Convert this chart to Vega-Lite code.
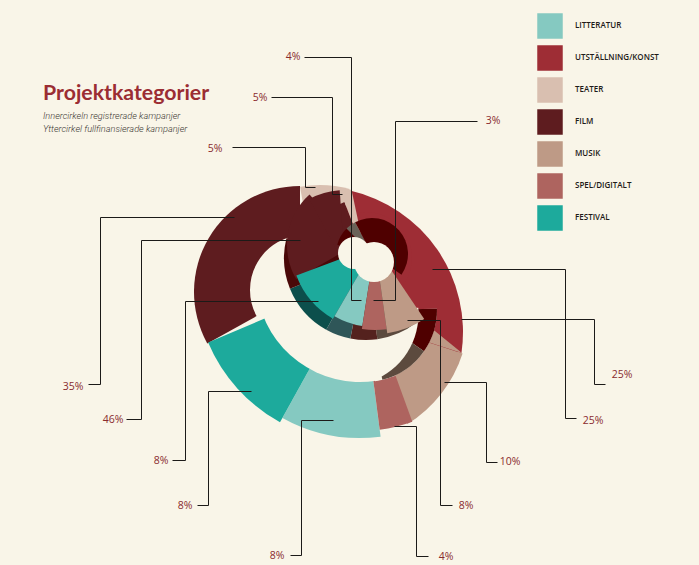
{
"$schema":"https://vega.github.io/schema/vega-lite/v6.json",
"width":699,"height":565,"padding":0,
"autosize":{"type":"fit","contains":"padding"},
"background":"#f9f5e8",
"view":{"stroke":null},
"layer":[
{"data":{"values":[{"category":"TEATER","start":350,"end":375}]},
"mark":{"type":"arc","radius":115},
"encoding":{
"x":{"datum":320,"type":"quantitative","scale":{"domain":[0,699],"nice":false,"zero":false},"axis":null},
"y":{"datum":300,"type":"quantitative","scale":{"domain":[565,0],"nice":false,"zero":false},"axis":null},
"theta":{"field":"start","type":"quantitative","scale":{"domain":[0,360],"range":[0,6.2832]}},
"theta2":{"field":"end"},
"color":{"field":"category","type":"nominal",
"scale":{"domain":["LITTERATUR","UTSTÄLLNING/KONST","TEATER","FILM","MUSIK","SPEL/DIGITALT","FESTIVAL","Film skugga","Festival skugga","Litteratur skugga","Spel skugga","Musik skugga","Vägg mörk","Vägg grå"],
"range":["#85c9c1","#9e2d35","#d9bfb0","#5e1c1f","#be9a86","#ae645f","#1daa9c","#4a0808","#0c4f4c","#2f5658","#54221e","#5c4a3e","#4f0000","#6a6258"]},
"legend":{"values":["LITTERATUR","UTSTÄLLNING/KONST","TEATER","FILM","MUSIK","SPEL/DIGITALT","FESTIVAL"],"title":null,"orient":"none","legendX":537,"legendY":13,"symbolType":"square","symbolSize":650,"symbolStrokeWidth":0,"symbolOpacity":1,"rowPadding":6,"labelFont":"Open Sans","labelFontSize":8,"labelFontWeight":600,"labelColor":"#1e1a18","labelOffset":12,"padding":0}}
}},
{"data":{"values":[{"category":"FILM","start":241,"end":360}]},"mark":{"type":"arc","radius":106},
"encoding":{"x":{"datum":300,"type":"quantitative"},"y":{"datum":292,"type":"quantitative"},"theta":{"field":"start","type":"quantitative"},"theta2":{"field":"end"},"color":{"field":"category","type":"nominal"}}},
{"data":{"values":[{"category":"UTSTÄLLNING/KONST","start":12.7,"end":98.3}]},"mark":{"type":"arc","radius":145},
"encoding":{"x":{"datum":318,"type":"quantitative"},"y":{"datum":332,"type":"quantitative"},"theta":{"field":"start","type":"quantitative"},"theta2":{"field":"end"},"color":{"field":"category","type":"nominal"}}},
{"data":{"values":[{"category":"MUSIK","start":108,"end":148}]},"mark":{"type":"arc","radius":131},
"encoding":{"x":{"datum":338,"type":"quantitative"},"y":{"datum":313,"type":"quantitative"},"theta":{"field":"start","type":"quantitative"},"theta2":{"field":"end"},"color":{"field":"category","type":"nominal"}}},
{"data":{"values":[{"category":"MUSIK","start":288,"end":309}]},"mark":{"type":"arc","radius":40},
"encoding":{"x":{"datum":462,"type":"quantitative"},"y":{"datum":353,"type":"quantitative"},"theta":{"field":"start","type":"quantitative"},"theta2":{"field":"end"},"color":{"field":"category","type":"nominal"}}},
{"data":{"values":[{"category":"LITTERATUR","start":172.6,"end":209}]},"mark":{"type":"arc","radius":160},
"encoding":{"x":{"datum":360,"type":"quantitative"},"y":{"datum":278,"type":"quantitative"},"theta":{"field":"start","type":"quantitative"},"theta2":{"field":"end"},"color":{"field":"category","type":"nominal"}}},
{"data":{"values":[{"category":"FESTIVAL","start":209,"end":247}]},"mark":{"type":"arc","radius":165},
"encoding":{"x":{"datum":360,"type":"quantitative"},"y":{"datum":278,"type":"quantitative"},"theta":{"field":"start","type":"quantitative"},"theta2":{"field":"end"},"color":{"field":"category","type":"nominal"}}},
{"data":{"values":[{"category":"SPEL/DIGITALT","start":160,"end":172.6}]},"mark":{"type":"arc","radius":153},
"encoding":{"x":{"datum":360,"type":"quantitative"},"y":{"datum":278,"type":"quantitative"},"theta":{"field":"start","type":"quantitative"},"theta2":{"field":"end"},"color":{"field":"category","type":"nominal"}}},
{"data":{"values":[{"start":240,"end":360}]},"mark":{"type":"arc","radius":55,"fill":"#f9f5e8"},
"encoding":{"x":{"datum":305,"type":"quantitative"},"y":{"datum":290,"type":"quantitative"},"theta":{"field":"start","type":"quantitative"},"theta2":{"field":"end"}}},
{"data":{"values":[{"start":160,"end":250}]},"mark":{"type":"arc","radius":104,"fill":"#f9f5e8"},
"encoding":{"x":{"datum":360,"type":"quantitative"},"y":{"datum":278,"type":"quantitative"},"theta":{"field":"start","type":"quantitative"},"theta2":{"field":"end"}}},
{"data":{"values":[{"start":89,"end":172}]},"mark":{"type":"arc","radius":72,"fill":"#f9f5e8"},
"encoding":{"x":{"datum":365,"type":"quantitative"},"y":{"datum":310,"type":"quantitative"},"theta":{"field":"start","type":"quantitative"},"theta2":{"field":"end"}}},
{"data":{"values":[{"category":"Vägg mörk","start":89,"end":125},{"category":"Musik skugga","start":125,"end":166}]},"mark":{"type":"arc","radius":72},
"encoding":{"x":{"datum":365,"type":"quantitative"},"y":{"datum":310,"type":"quantitative"},"theta":{"field":"start","type":"quantitative"},"theta2":{"field":"end"},"color":{"field":"category","type":"nominal"}}},
{"data":{"values":[{"start":85,"end":160}]},"mark":{"type":"arc","radius":71.5,"fill":"#f9f5e8"},
"encoding":{"x":{"datum":347,"type":"quantitative"},"y":{"datum":314,"type":"quantitative"},"theta":{"field":"start","type":"quantitative"},"theta2":{"field":"end"}}},
{"data":{"values":[
{"category":"Musik skugga","start":142,"end":172},
{"category":"Spel skugga","start":172,"end":191},
{"category":"Litteratur skugga","start":191,"end":209},
{"category":"Festival skugga","start":209,"end":248},
{"category":"Film skugga","start":248,"end":284}]},
"mark":{"type":"arc","radius":82},
"encoding":{"x":{"datum":366,"type":"quantitative"},"y":{"datum":258,"type":"quantitative"},"theta":{"field":"start","type":"quantitative"},"theta2":{"field":"end"},"color":{"field":"category","type":"nominal"}}},
{"data":{"values":[{"category":"UTSTÄLLNING/KONST","start":348,"end":492}]},"mark":{"type":"arc","radius":46},
"encoding":{"x":{"datum":366,"type":"quantitative"},"y":{"datum":258,"type":"quantitative"},"theta":{"field":"start","type":"quantitative"},"theta2":{"field":"end"},"color":{"field":"category","type":"nominal"}}},
{"data":{"values":[{"category":"FILM","start":280,"end":339}]},"mark":{"type":"arc","radius":60},
"encoding":{"x":{"datum":366,"type":"quantitative"},"y":{"datum":258,"type":"quantitative"},"theta":{"field":"start","type":"quantitative"},"theta2":{"field":"end"},"color":{"field":"category","type":"nominal"}}},
{"data":{"values":[{"category":"FILM","start":240,"end":318}]},"mark":{"type":"arc","radius":68},
"encoding":{"x":{"datum":355,"type":"quantitative"},"y":{"datum":245,"type":"quantitative"},"theta":{"field":"start","type":"quantitative"},"theta2":{"field":"end"},"color":{"field":"category","type":"nominal"}}},
{"data":{"values":[{"category":"FILM","start":332,"end":356}]},"mark":{"type":"arc","radius":76},
"encoding":{"x":{"datum":345,"type":"quantitative"},"y":{"datum":266,"type":"quantitative"},"theta":{"field":"start","type":"quantitative"},"theta2":{"field":"end"},"color":{"field":"category","type":"nominal"}}},
{"data":{"values":[{"category":"TEATER","start":339,"end":348}]},"mark":{"type":"arc","radius":70},
"encoding":{"x":{"datum":366,"type":"quantitative"},"y":{"datum":258,"type":"quantitative"},"theta":{"field":"start","type":"quantitative"},"theta2":{"field":"end"},"color":{"field":"category","type":"nominal"}}},
{"data":{"values":[{"category":"FESTIVAL","start":210,"end":249.4}]},"mark":{"type":"arc","radius":84},
"encoding":{"x":{"datum":375,"type":"quantitative"},"y":{"datum":246,"type":"quantitative"},"theta":{"field":"start","type":"quantitative"},"theta2":{"field":"end"},"color":{"field":"category","type":"nominal"}}},
{"data":{"values":[{"category":"LITTERATUR","start":189,"end":210}]},"mark":{"type":"arc","radius":81},
"encoding":{"x":{"datum":375,"type":"quantitative"},"y":{"datum":246,"type":"quantitative"},"theta":{"field":"start","type":"quantitative"},"theta2":{"field":"end"},"color":{"field":"category","type":"nominal"}}},
{"data":{"values":[{"category":"SPEL/DIGITALT","start":172,"end":189}]},"mark":{"type":"arc","radius":84},
"encoding":{"x":{"datum":375,"type":"quantitative"},"y":{"datum":246,"type":"quantitative"},"theta":{"field":"start","type":"quantitative"},"theta2":{"field":"end"},"color":{"field":"category","type":"nominal"}}},
{"data":{"values":[{"category":"MUSIK","start":146,"end":172}]},"mark":{"type":"arc","radius":88},
"encoding":{"x":{"datum":375,"type":"quantitative"},"y":{"datum":246,"type":"quantitative"},"theta":{"field":"start","type":"quantitative"},"theta2":{"field":"end"},"color":{"field":"category","type":"nominal"}}},
{"data":{"values":[
{"category":"Vägg mörk","start":285,"end":315},
{"category":"Vägg grå","start":315,"end":332},
{"category":"Vägg mörk","start":332,"end":485}]},
"mark":{"type":"arc","radius":36},
"encoding":{"x":{"datum":372,"type":"quantitative"},"y":{"datum":254,"type":"quantitative"},"theta":{"field":"start","type":"quantitative"},"theta2":{"field":"end"},"color":{"field":"category","type":"nominal"}}},
{"data":{"values":[{"start":0,"end":360}]},"mark":{"type":"arc","radius":16,"fill":"#f9f5e8"},
"encoding":{"x":{"datum":354,"type":"quantitative"},"y":{"datum":253,"type":"quantitative"},"theta":{"field":"start","type":"quantitative"},"theta2":{"field":"end"}}},
{"data":{"values":[{"start":0,"end":360}]},"mark":{"type":"arc","radius":20,"fill":"#f9f5e8"},
"encoding":{"x":{"datum":374,"type":"quantitative"},"y":{"datum":262,"type":"quantitative"},"theta":{"field":"start","type":"quantitative"},"theta2":{"field":"end"}}},
{"data":{"values":[
{"id":"l1","seq":1,"x":304,"y":57},{"id":"l1","seq":2,"x":351,"y":57},{"id":"l1","seq":3,"x":351,"y":300},{"id":"l1","seq":4,"x":361,"y":300},
{"id":"l2","seq":1,"x":271,"y":97},{"id":"l2","seq":2,"x":332,"y":97},{"id":"l2","seq":3,"x":332,"y":194},{"id":"l2","seq":4,"x":342,"y":194},
{"id":"l3","seq":1,"x":232,"y":147},{"id":"l3","seq":2,"x":305,"y":147},{"id":"l3","seq":3,"x":305,"y":187},{"id":"l3","seq":4,"x":315,"y":187},
{"id":"l4","seq":1,"x":477,"y":121},{"id":"l4","seq":2,"x":395,"y":121},{"id":"l4","seq":3,"x":395,"y":300},{"id":"l4","seq":4,"x":373,"y":300},
{"id":"l5","seq":1,"x":432,"y":269},{"id":"l5","seq":2,"x":565,"y":269},{"id":"l5","seq":3,"x":565,"y":418},{"id":"l5","seq":4,"x":576,"y":418},
{"id":"l6","seq":1,"x":461,"y":319},{"id":"l6","seq":2,"x":594,"y":319},{"id":"l6","seq":3,"x":594,"y":384},{"id":"l6","seq":4,"x":605,"y":384},
{"id":"l7","seq":1,"x":444,"y":382},{"id":"l7","seq":2,"x":486,"y":382},{"id":"l7","seq":3,"x":486,"y":462},{"id":"l7","seq":4,"x":497,"y":462},
{"id":"l8","seq":1,"x":407,"y":320},{"id":"l8","seq":2,"x":440,"y":320},{"id":"l8","seq":3,"x":440,"y":505},{"id":"l8","seq":4,"x":452,"y":505},
{"id":"l9","seq":1,"x":394,"y":426},{"id":"l9","seq":2,"x":416,"y":426},{"id":"l9","seq":3,"x":416,"y":556},{"id":"l9","seq":4,"x":428,"y":556},
{"id":"l10","seq":1,"x":333,"y":420},{"id":"l10","seq":2,"x":301,"y":420},{"id":"l10","seq":3,"x":301,"y":555},{"id":"l10","seq":4,"x":290,"y":555},
{"id":"l11","seq":1,"x":251,"y":391},{"id":"l11","seq":2,"x":208,"y":391},{"id":"l11","seq":3,"x":208,"y":505},{"id":"l11","seq":4,"x":197,"y":505},
{"id":"l12","seq":1,"x":318,"y":301},{"id":"l12","seq":2,"x":185,"y":301},{"id":"l12","seq":3,"x":185,"y":460},{"id":"l12","seq":4,"x":172,"y":460},
{"id":"l13","seq":1,"x":300,"y":240},{"id":"l13","seq":2,"x":141,"y":240},{"id":"l13","seq":3,"x":141,"y":419},{"id":"l13","seq":4,"x":126,"y":419},
{"id":"l14","seq":1,"x":234,"y":217},{"id":"l14","seq":2,"x":100,"y":217},{"id":"l14","seq":3,"x":100,"y":384},{"id":"l14","seq":4,"x":88,"y":384}]},
"mark":{"type":"line","color":"#1c1a18","strokeWidth":1,"interpolate":"linear","xOffset":0.5,"yOffset":0.5},
"encoding":{"x":{"field":"x","type":"quantitative"},"y":{"field":"y","type":"quantitative"},"detail":{"field":"id"},"order":{"field":"seq"}}},
{"data":{"values":[
{"t":"4%","x":293,"y":57},{"t":"5%","x":260,"y":98},{"t":"5%","x":215,"y":149},{"t":"3%","x":493,"y":121},
{"t":"25%","x":593,"y":421},{"t":"25%","x":622,"y":375},{"t":"10%","x":510,"y":462},{"t":"8%","x":466,"y":506},
{"t":"4%","x":446,"y":557},{"t":"8%","x":277,"y":556},{"t":"8%","x":185,"y":506},{"t":"8%","x":161,"y":461},
{"t":"46%","x":113,"y":420},{"t":"35%","x":73,"y":387}]},
"mark":{"type":"text","font":"Open Sans","fontSize":10.5,"color":"#8a2b2e","align":"center","baseline":"middle"},
"encoding":{"x":{"field":"x","type":"quantitative"},"y":{"field":"y","type":"quantitative"},"text":{"field":"t"}}},
{"data":{"values":[{"t":"Projektkategorier","x":43,"y":94}]},
"mark":{"type":"text","font":"Lato","fontSize":21.3,"fontWeight":700,"color":"#9b2d33","align":"left","baseline":"middle"},
"encoding":{"x":{"field":"x","type":"quantitative"},"y":{"field":"y","type":"quantitative"},"text":{"field":"t"}}},
{"data":{"values":[{"t":"Innercirkeln registrerade kampanjer","x":43,"y":116},{"t":"Yttercirkel fullfinansierade kampanjer","x":43,"y":129}]},
"mark":{"type":"text","font":"Roboto","fontSize":9.2,"fontStyle":"italic","fontWeight":300,"color":"#3a3532","align":"left","baseline":"middle"},
"encoding":{"x":{"field":"x","type":"quantitative"},"y":{"field":"y","type":"quantitative"},"text":{"field":"t"}}}
]
}
